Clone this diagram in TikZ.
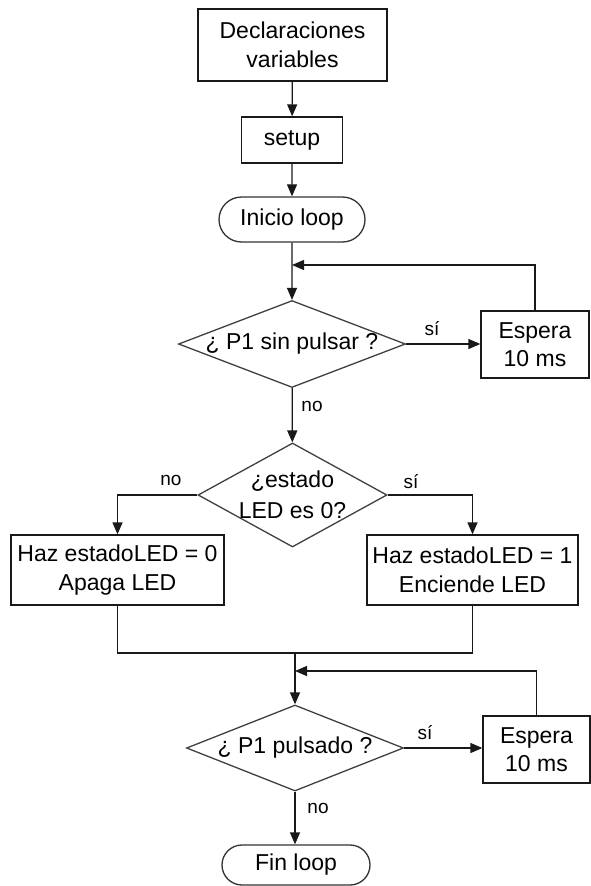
\documentclass[tikz,border=0pt]{standalone}
\usepackage{fontspec}
\setmainfont{Liberation Sans}
\usetikzlibrary{arrows.meta,shapes.geometric,shapes.misc}
\begin{document}
\begin{tikzpicture}[x=1pt,y=-1pt,
  line width=1.3pt,
  box/.style={draw=black!90, rectangle, inner sep=0pt, align=center, font=\fontsize{23}{28.5}\selectfont},
  term/.style={draw=black!80, rounded rectangle, inner sep=0pt, font=\fontsize{23}{28}\selectfont},
  dia/.style={draw=black!75, diamond, inner sep=0pt},
  dtext/.style={align=center, font=\fontsize{23}{31}\selectfont, inner sep=0pt},
  lbl/.style={font=\fontsize{19}{22}\selectfont, inner sep=0pt},
  arr/.style={draw=black!90, -{Triangle[length=12pt,width=10pt]}},
  ln/.style={draw=black!90}
]
\useasboundingbox (0,0) rectangle (591,886);
\fill[white] (0,0) rectangle (591,886);

% nodes
\node[box, minimum width=189, minimum height=72] (decl) at (292.5,45) {Declaraciones\\variables};
\node[box, minimum width=101, minimum height=46] (setup) at (292,140) {setup};
\node[term, minimum width=146, minimum height=45] (inicio) at (292,219.5) {Inicio loop};

\node[dia, minimum width=227, minimum height=87] (d1) at (292,344) {};
\node[dtext] (t1) at (d1) {¿ P1 sin pulsar ?};
\node[box, minimum width=108, minimum height=67] (esp1) at (535,344.5) {Espera\\10 ms};

\node[dia, minimum width=189, minimum height=104] (d2) at (292.5,495) {};
\node[dtext] (t2) at (d2) {¿estado\\LED es 0?};
\node[box, minimum width=213, minimum height=70] (hz0) at (117.5,570) {Haz estadoLED = 0\\Apaga LED};
\node[box, minimum width=211, minimum height=70] (hz1) at (472.5,570) {Haz estadoLED = 1\\Enciende LED};

\node[dia, minimum width=217, minimum height=86] (d3) at (295,748) {};
\node[dtext] (t3) at (d3) {¿ P1 pulsado ?};
\node[box, minimum width=107, minimum height=67] (esp2) at (536.5,749.5) {Espera\\10 ms};
\node[term, minimum width=148, minimum height=40] (fin) at (296,865) {Fin loop};

% junctions
\coordinate (j1) at (292,265);
\coordinate (m) at (295,653);
\coordinate (j2) at (295,671);

% connectors
\draw[arr] (decl) -- (setup);
\draw[arr] (setup) -- (inicio);
\draw[arr] (inicio) -- (d1);
\draw[arr] (d1.east) -- (d1.east -| esp1.west);
\draw[arr] (esp1.north) |- (j1);
\draw[arr] (d1) -- (d2);
\draw[arr] (d2.west) -| (hz0.north);
\draw[arr] (d2.east) -| (hz1.north);
\draw[ln] (hz0.south) |- (m);
\draw[ln] (hz1.south) |- (m);
\draw[arr] (m) -- (d3.north);
\draw[arr] (d3.east) -- (d3.east -| esp2.west);
\draw[arr] (esp2.north) |- (j2);
\draw[arr] (d3.south) -- (d3.south |- fin.north);

% labels
\node[lbl] (l1) at (432,329) {sí};
\node[lbl] (l2) at (312,406) {no};
\node[lbl] (l3) at (171,480) {no};
\node[lbl] (l4) at (411,482) {sí};
\node[lbl] (l5) at (425,733) {sí};
\node[lbl] (l6) at (318,808) {no};
\end{tikzpicture}
\end{document}
